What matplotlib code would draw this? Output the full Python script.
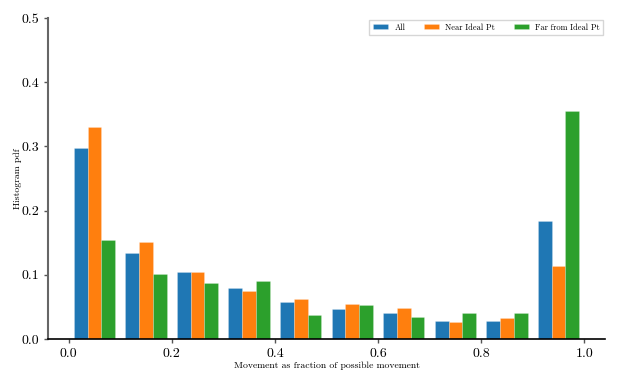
import matplotlib
matplotlib.use("Agg")
import matplotlib.pyplot as plt
import numpy as np

plt.rcParams['font.family'] = ['cmr10', 'DejaVu Serif']
plt.rcParams['mathtext.fontset'] = 'cm'
plt.rcParams['axes.formatter.use_mathtext'] = True

bin_left = [0.0, 0.1, 0.2, 0.3, 0.4, 0.5, 0.6, 0.7, 0.8, 0.9]
series_names = ["All", "Near Ideal Pt", "Far from Ideal Pt"]
all_vals = [0.297, 0.134, 0.104, 0.079, 0.057, 0.047, 0.040, 0.028, 0.028, 0.184]
near_vals = [0.330, 0.151, 0.104, 0.075, 0.063, 0.054, 0.049, 0.026, 0.033, 0.113]
far_vals = [0.155, 0.102, 0.087, 0.090, 0.037, 0.053, 0.034, 0.041, 0.041, 0.356]
colors = ["#1f77b4", "#ff7f0e", "#2ca02c"]

fig = plt.figure(figsize=(6.23, 3.85), dpi=100)
ax = fig.add_axes([0.077, 0.1195, 0.894, 0.8335])

bin_w = 0.1
group_w = 0.8 * bin_w
bar_w = group_w / 3
left = np.array(bin_left)
for i, (vals, name, c) in enumerate(zip([all_vals, near_vals, far_vals], series_names, colors)):
    x = left + 0.1 * bin_w + bar_w * (i + 0.5)
    ax.bar(x, vals, width=bar_w, color=c, label=name,
           edgecolor=(1, 1, 1, 0.35), linewidth=0.4)

ax.set_xlim(-0.04, 1.04)
ax.set_ylim(0, 0.5)
ax.set_xticks([0.0, 0.2, 0.4, 0.6, 0.8, 1.0])
ax.set_yticks([0.0, 0.1, 0.2, 0.3, 0.4, 0.5])
ax.set_xticklabels(["0.0", "0.2", "0.4", "0.6", "0.8", "1.0"])
ax.set_yticklabels(["0.0", "0.1", "0.2", "0.3", "0.4", "0.5"])

for s in ["top", "right"]:
    ax.spines[s].set_visible(False)
ax.spines["left"].set_color("#666666")
ax.spines["left"].set_linewidth(1.5)
ax.spines["bottom"].set_color("black")
ax.spines["bottom"].set_linewidth(1.2)
ax.tick_params(axis='both', labelsize=10, length=3, width=1, color="#555555")

ax.set_xlabel("Movement as fraction of possible movement", fontsize=7, labelpad=1)
ax.set_ylabel("Histogram pdf", fontsize=7)
ax.yaxis.set_label_coords(-0.046, 0.5)

ax.legend(loc="upper right", ncol=3, fontsize=6, frameon=True, fancybox=False,
          edgecolor="#cccccc", handlelength=1.8, handleheight=0.6, columnspacing=2.2,
          borderpad=0.4, borderaxespad=0.2, bbox_to_anchor=(1.0, 1.0))

fig.savefig("out.png", dpi=100)
